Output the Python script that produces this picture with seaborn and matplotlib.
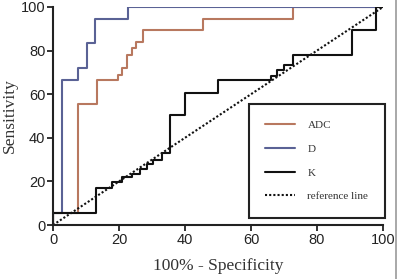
import matplotlib
matplotlib.use("Agg")
import matplotlib.pyplot as plt
import seaborn as sns
from matplotlib.lines import Line2D

# ROC step curves (100% - specificity, sensitivity)
adc_x = [0, 0, 7.6, 13.2, 19.8, 21, 22.3, 23.8, 25.3, 27.4, 45.5, 72.7, 100]
adc_y = [0, 5.5, 55.5, 66.5, 69, 72, 78, 81, 84, 89.5, 94.5, 100, 100]

d_x = [0, 0, 2.6, 7.7, 10.2, 12.7, 22.6, 100]
d_y = [0, 5.5, 66.5, 72, 83.5, 94.5, 100, 100]

k_x = [0, 0, 13, 18, 20.8, 24, 26.4, 28.5, 30.4, 33, 35.4, 40, 50, 66, 68, 70,
       72.6, 90.6, 98, 100]
k_y = [0, 5.5, 17, 19.5, 22, 23.5, 25.5, 28, 30, 33, 50.5, 60.5, 66.5, 68.5, 71,
       73.4, 78, 89.5, 100, 100]

ref_x = [0, 100]
ref_y = [0, 100]

labels = ["ADC", "D", "K", "reference line"]
colors = ["#b8785f", "#5a6295", "#111111", "#111111"]
ticks = [0, 20, 40, 60, 80, 100]

sns.set_style("ticks")
plt.rcParams["font.family"] = ["Liberation Sans", "DejaVu Sans"]

fig = plt.figure(figsize=(4.0, 2.79), dpi=100)
ax = fig.add_axes([0.1325, 0.1935, 0.825, 0.7815])

lw = 1.5
sns.lineplot(x=adc_x, y=adc_y, sort=False, estimator=None, ax=ax, color=colors[0],
             lw=lw, drawstyle="steps-post", label=labels[0])
sns.lineplot(x=d_x, y=d_y, sort=False, estimator=None, ax=ax, color=colors[1],
             lw=lw, drawstyle="steps-post", label=labels[1])
sns.lineplot(x=k_x, y=k_y, sort=False, estimator=None, ax=ax, color=colors[2],
             lw=lw, drawstyle="steps-post", label=labels[2])
sns.lineplot(x=ref_x, y=ref_y, sort=False, estimator=None, ax=ax, color=colors[3],
             lw=lw, linestyle=(0, (1.0, 1.0)), label=labels[3])

ax.set_xlim(0, 100)
ax.set_ylim(0, 100)
ax.set_xticks(ticks)
ax.set_yticks(ticks)
ax.tick_params(labelsize=10.5, length=4, width=1.3, pad=1.5, colors="#222222")
for s in ["left", "bottom"]:
    ax.spines[s].set_linewidth(1.5)
    ax.spines[s].set_color("#222222")
sns.despine(ax=ax)

ax.set_xlabel("100% - Specificity", family="Liberation Serif", fontsize=12.5,
              labelpad=8, color="#333333")
ax.set_ylabel("Sensitivity", family="Liberation Serif", fontsize=12.5,
              labelpad=2, color="#333333")

leg = ax.legend(loc="lower right", bbox_to_anchor=(1.006, 0.032), frameon=True,
                fancybox=False, framealpha=1, edgecolor="#222222",
                prop={"family": "Liberation Serif", "size": 8},
                handlelength=2.7, handletextpad=1.1, labelspacing=1.25,
                borderpad=1.5, borderaxespad=0)
leg.get_frame().set_linewidth(1.5)
for t in leg.get_texts():
    t.set_color("#333333")

# grey edge line on the right of the picture
fig.add_artist(Line2D([0.99, 0.99], [0.0, 1.0], color="#9a9a9a", lw=1.2))

fig.savefig("out.png", dpi=100)
